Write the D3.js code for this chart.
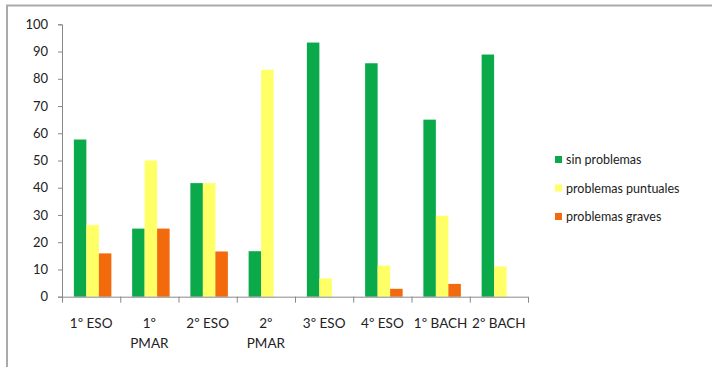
<!DOCTYPE html>
<html>
<head>
<meta charset="utf-8">
<script src="https://cdn.jsdelivr.net/npm/d3@7/dist/d3.min.js"></script>
<style>
  html, body { margin: 0; padding: 0; background: #fff; }
  svg { display: block; }
  text { font-family: Lato, "Open Sans", sans-serif; fill: #222; }
</style>
</head>
<body>
<svg id="chart" width="712" height="367"></svg>
<script>
const categories = ["1º ESO", "1º PMAR", "2º ESO", "2º PMAR", "3º ESO", "4º ESO", "1º BACH", "2º BACH"];
const seriesNames = ["sin problemas", "problemas puntuales", "problemas graves"];
const sinProblemas = [57.7, 25, 41.7, 16.7, 93.3, 85.7, 65.0, 88.9];
const problemasPuntuales = [26.3, 50, 41.7, 83.3, 6.7, 11.4, 29.7, 11.1];
const problemasGraves = [15.9, 25, 16.6, 0, 0, 2.9, 4.7, 0];
const yTicks = [0, 10, 20, 30, 40, 50, 60, 70, 80, 90, 100];
const colors = ["#0aaa4a", "#ffff66", "#f26a0c"];

const series = [sinProblemas, problemasPuntuales, problemasGraves];
const svg = d3.select("#chart");

// outer frame (left and top edges)
svg.append("line").attr("x1", 7).attr("x2", 7).attr("y1", 5).attr("y2", 367)
  .attr("stroke", "#aaa").attr("stroke-width", 2);
svg.append("line").attr("x1", 6).attr("x2", 712).attr("y1", 5.5).attr("y2", 5.5)
  .attr("stroke", "#aaa").attr("stroke-width", 2);

const plotLeft = 62, plotRight = 528, plotTop = 24.3, plotBottom = 296.7;

const x = d3.scaleBand().domain(categories).range([plotLeft, plotRight]).paddingInner(0).paddingOuter(0);
const xs = d3.scaleBand().domain(d3.range(3)).range([0, x.bandwidth()]).paddingInner(0).paddingOuter(0.83);
const y = d3.scaleLinear().domain([0, 100]).range([plotBottom, plotTop]);

// bars
const groups = svg.append("g").selectAll("g").data(categories).join("g")
  .attr("transform", d => `translate(${x(d)},0)`);
groups.selectAll("rect")
  .data((c, i) => series.map((s, k) => ({ k, v: s[i] })).filter(d => d.v > 0))
  .join("rect")
  .attr("x", d => xs(d.k) + 1.5)
  .attr("width", xs.bandwidth())
  .attr("y", d => y(d.v))
  .attr("height", d => y(0) - y(d.v))
  .attr("fill", d => colors[d.k]);

// y axis
const yAxis = svg.append("g").attr("transform", `translate(${plotLeft},0)`)
  .call(d3.axisLeft(y).tickValues(yTicks).tickSize(4).tickPadding(10));
yAxis.select(".domain").attr("stroke", "#888");
yAxis.selectAll(".tick line").attr("stroke", "#888");
yAxis.selectAll("text").style("font-size", "13px").attr("fill", "#222");

// x axis line with ticks between categories
const xg = svg.append("g");
xg.append("line").attr("x1", plotLeft).attr("x2", plotRight).attr("y1", plotBottom + 0.5).attr("y2", plotBottom + 0.5)
  .attr("stroke", "#888");
const bounds = categories.map(c => x(c)).concat([plotRight]);
xg.selectAll("line.tk").data(bounds).join("line").attr("class", "tk")
  .attr("x1", d => d + 0.5).attr("x2", d => d + 0.5)
  .attr("y1", plotBottom).attr("y2", plotBottom + 6).attr("stroke", "#888");

// category labels (wrapped when too wide)
categories.forEach(c => {
  const lines = (c.indexOf("PMAR") >= 0) ? c.split(" ") : [c];
  const cx = x(c) + x.bandwidth() / 2;
  const t = xg.append("text").attr("text-anchor", "middle")
    .attr("x", cx).attr("y", 328)
    .style("font-size", "13.5px");
  lines.forEach((l, i) => t.append("tspan").attr("x", cx).attr("dy", i ? 20 : 0).text(l));
});

// legend
const legend = svg.append("g").attr("transform", "translate(555,160)");
seriesNames.forEach((n, i) => {
  const g = legend.append("g").attr("transform", `translate(0,${i * 28.5})`);
  g.append("rect").attr("x", 0).attr("y", -4).attr("width", 7).attr("height", 7).attr("fill", colors[i]);
  g.append("text").attr("x", 11).attr("y", 4).style("font-size", "12.5px").text(n);
});
</script>
</body>
</html>
